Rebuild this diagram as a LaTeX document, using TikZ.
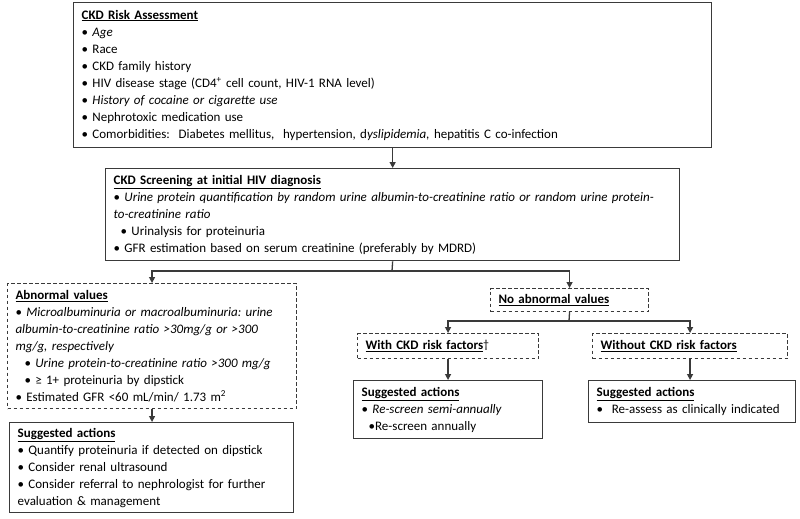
\documentclass[tikz,border=0pt]{standalone}
\usepackage{fontspec}
\setmainfont{Carlito}
\usetikzlibrary{arrows.meta}
\definecolor{lc}{HTML}{3A3A3A}
\newcommand{\ttl}[1]{\underline{\textbf{#1}}}
\newcommand{\bu}{\textbullet\ }
\frenchspacing
\begin{document}
\begin{tikzpicture}[x=1pt,y=-1pt,
  box/.style={draw=lc, line width=1.3pt, anchor=north west, align=left,
    inner xsep=8pt, inner ysep=3pt, font=\fontsize{13}{17}\selectfont\frenchspacing},
  dbox/.style={box, line width=1.1pt, dash pattern=on 3.5pt off 2.5pt},
  conn/.style={draw=lc, line width=1.3pt},
  arr/.style={conn, -{Triangle[length=6pt,width=6pt]}}]
\useasboundingbox[fill=white] (0,0) rectangle (800,519);

\node[box, text width=622pt, minimum height=145pt] (top) at (73,2) {%
\ttl{CKD Risk Assessment}\\
\bu\textit{Age}\\
\bu Race\\
\bu CKD family history\\
\bu HIV disease stage (CD4\textsuperscript{+} cell count, HIV-1 RNA level)\\
\bu\textit{History of cocaine or cigarette use}\\
\bu Nephrotoxic medication use\\
\bu Comorbidities:\ \ Diabetes mellitus,\ \ hypertension, d\textit{yslipidemia,} hepatitis C co-infection};

\node[box, text width=558pt, minimum height=92pt] (screen) at (105,168) {%
\ttl{CKD Screening at initial HIV diagnosis}\\
\bu\textit{Urine protein quantification by random urine albumin-to-creatinine ratio or random urine protein-}\\
\textit{to-creatinine ratio}\\
\hspace*{7pt}\bu Urinalysis for proteinuria\\
\bu GFR estimation based on serum creatinine (preferably by MDRD)};

\node[dbox, text width=273pt, minimum height=125pt] (abn) at (7,283) {%
\ttl{Abnormal values}\\
\bu\textit{Microalbuminuria or macroalbuminuria: urine}\\
\textit{albumin-to-creatinine ratio >30mg/g or >300}\\
\textit{mg/g, respectively}\\
\hspace*{9pt}\bu\textit{Urine protein-to-creatinine ratio >300 mg/g}\\
\hspace*{9pt}\bu ≥ 1+ proteinuria by dipstick\\
\bu Estimated GFR <60 mL/min/ 1.73 m\textsuperscript{2}};

\node[box, text width=268pt, minimum height=90pt] (sugL) at (9,422) {%
\ttl{Suggested actions}\\
\bu Quantify proteinuria if detected on dipstick\\
\bu Consider renal ultrasound\\
\bu Consider referral to nephrologist for further\\
evaluation \& management};

\node[dbox, text width=142pt, minimum height=23pt] (noab) at (490,288) {\ttl{No abnormal values}};

\node[dbox, text width=165pt, minimum height=25pt] (with) at (357,333)
  {\ttl{With CKD risk factors}\raisebox{1.5pt}{\fontsize{12}{12}\selectfont †}};

\node[dbox, text width=179pt, minimum height=25pt] (without) at (592,333) {\ttl{Without CKD risk factors}};

\node[box, text width=173pt, minimum height=58pt] (sugM) at (353,380) {%
\ttl{Suggested actions}\\
\bu\textit{Re-screen semi-annually}\\
\hspace*{7pt}\textbullet Re-screen annually};

\node[box, text width=191pt, minimum height=42pt] (sugR) at (588,380) {%
\ttl{Suggested actions}\\
\textbullet\ \ Re-assess as clinically indicated};

\coordinate (j1) at (392,271);
\coordinate (j2) at (569,321);

\draw[arr] (top.south) -- (top.south |- screen.north);
\draw[conn] (screen.south) -- (j1);
\draw[arr] (j1) -| (abn.north);
\draw[arr] (j1) -| (noab.north);
\draw[arr] (abn.south) -- (abn.south |- sugL.north);
\draw[conn] (noab.south) -- (j2);
\draw[arr] (j2) -| (with.north);
\draw[arr] (j2) -| (without.north);
\draw[arr] (with.south) -- (with.south |- sugM.north);
\draw[arr] (without.south) -- (without.south |- sugR.north);
\end{tikzpicture}
\end{document}
